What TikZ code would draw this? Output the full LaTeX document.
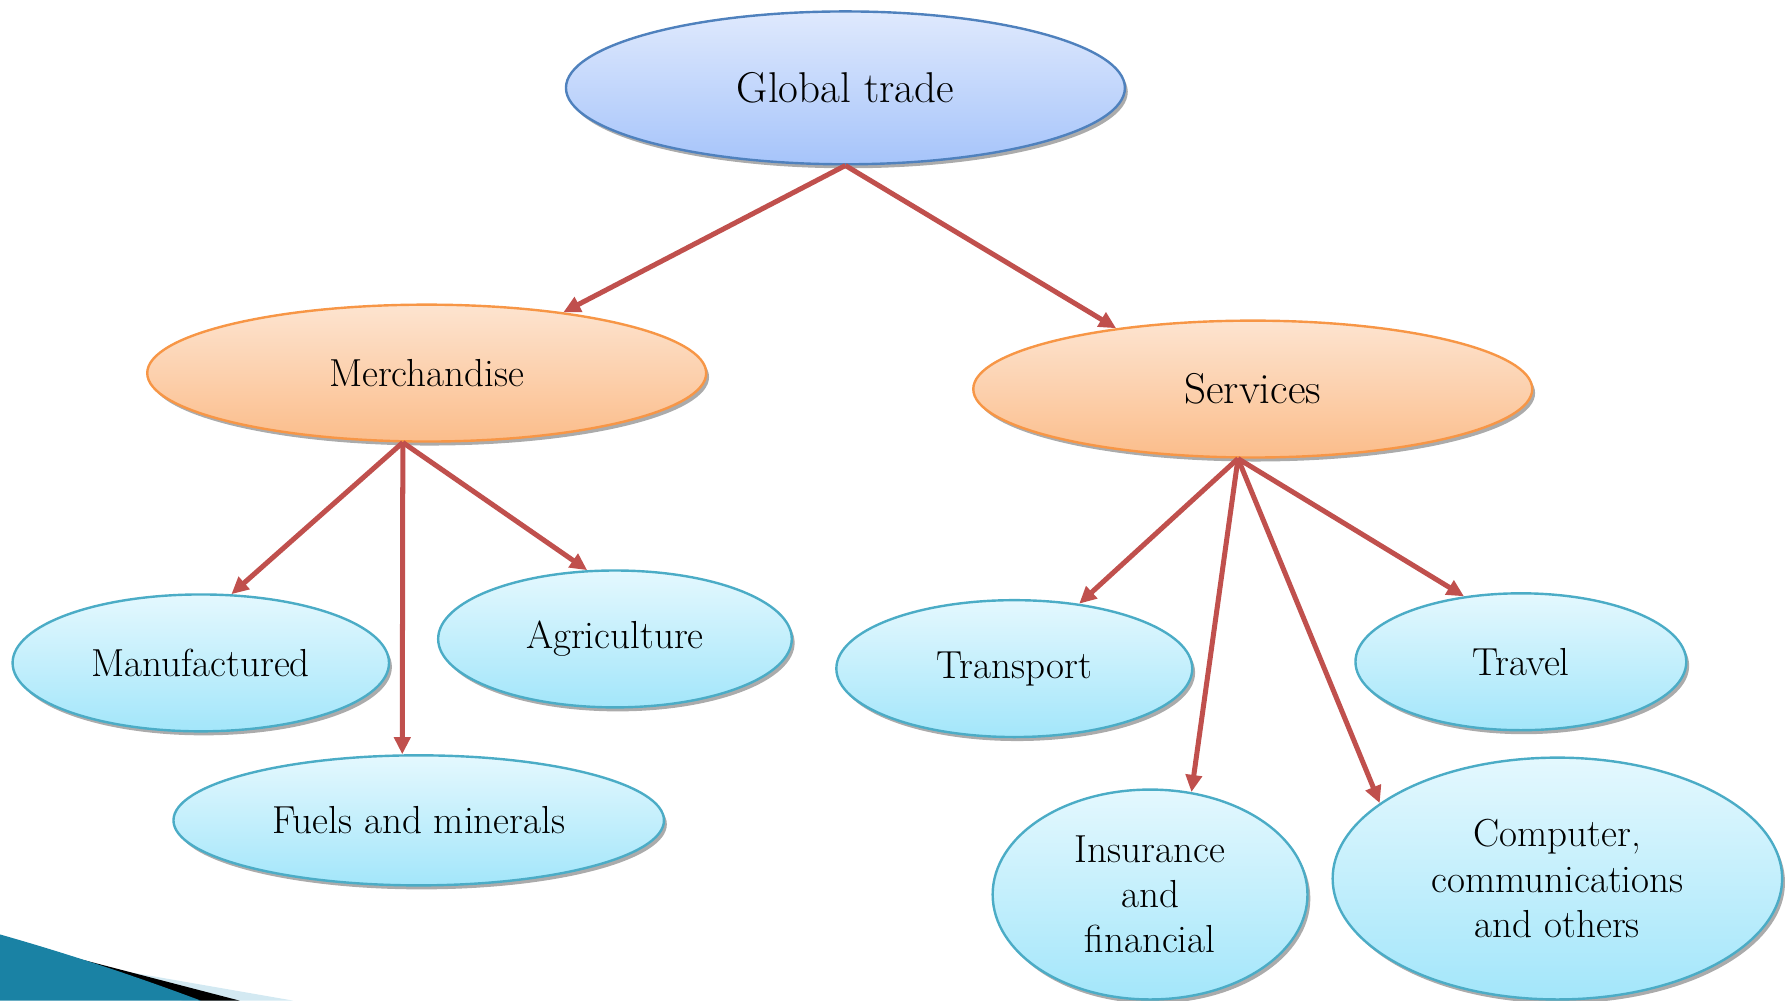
\documentclass[tikz,border=0pt]{standalone}
\usepackage{fontspec}
\usetikzlibrary{shapes.geometric,shadows,arrows.meta}
\definecolor{topline}{HTML}{4F81BD}
\definecolor{toptop}{HTML}{DFE9FD}
\definecolor{topbot}{HTML}{A6C4FA}
\definecolor{midline}{HTML}{F79646}
\definecolor{midtop}{HTML}{FDE4D0}
\definecolor{midbot}{HTML}{FBBD8B}
\definecolor{leafline}{HTML}{4BACC6}
\definecolor{leaftop}{HTML}{E4F8FE}
\definecolor{leafbot}{HTML}{A3E6FA}
\definecolor{arrowred}{HTML}{C0504D}
\definecolor{swteal}{HTML}{1A82A4}
\definecolor{swlight}{HTML}{D3E9F2}

\begin{document}
\begin{tikzpicture}[x=0.02cm,y=-0.02cm,
	oval/.style={ellipse,inner sep=0pt,line width=1.2pt,align=center,
		font=\fontsize{19.5}{22.5}\selectfont,
		drop shadow={shadow xshift=0.05cm,shadow yshift=-0.07cm,fill=black!55,opacity=0.6}},
	root/.style={oval,draw=topline,top color=toptop,bottom color=topbot,font=\fontsize{21.5}{24}\selectfont},
	branch/.style={oval,draw=midline,top color=midtop,bottom color=midbot},
	leaf/.style={oval,draw=leafline,top color=leaftop,bottom color=leafbot},
	arr/.style={draw=arrowred,line width=2.5pt,-{Triangle[length=0.3cm,width=0.28cm]}}]
	\useasboundingbox (0,0) rectangle (1568,877);
	% slide corner
	\fill[swlight] (96,849) -- (257,877) -- (160,877) -- cycle;
	\fill[black] (64,839) -- (210,877) -- (175,877) -- cycle;
	\fill[swteal] (0,819) .. controls (60,836) and (120,856) .. (176,877) -- (0,877) -- cycle;
	% nodes
	\node[root,minimum width=9.8cm,minimum height=2.68cm] (trade) at (741,77) {Global trade};
	\node[branch,minimum width=9.8cm,minimum height=2.4cm] (merch) at (374,327) {Merchandise};
	\node[branch,minimum width=9.8cm,minimum height=2.4cm,font=\fontsize{21.5}{24}\selectfont] (serv) at (1098,341) {Services};
	\node[leaf,minimum width=6.6cm,minimum height=2.4cm] (manuf) at (176,581) {Manufactured};
	\node[leaf,minimum width=6.2cm,minimum height=2.4cm] (agri) at (539,560) {Agriculture};
	\node[leaf,minimum width=8.6cm,minimum height=2.28cm] (fuel) at (367,719) {Fuels and minerals};
	\node[leaf,minimum width=6.24cm,minimum height=2.4cm] (trans) at (889,586) {Transport};
	\node[leaf,minimum width=5.8cm,minimum height=2.4cm] (travel) at (1333,580) {Travel};
	\node[leaf,minimum width=5.52cm,minimum height=3.68cm] (insur) at (1008,784) {Insurance\\and\\financial};
	\node[leaf,minimum width=7.88cm,minimum height=4.24cm] (comp) at (1365,770) {Computer,\\communications\\and others};
	% arrows
	\draw[arr] (trade.south) -- (merch.24);
	\draw[arr] (trade.south) -- (serv.156);
	\draw[arr] (merch.251) -- (manuf.66);
	\draw[arr] (merch.251) -- (fuel.104);
	\draw[arr] (merch.251) -- (agri.112);
	\draw[arr] (serv.258) -- (trans.45);
	\draw[arr] (serv.258) -- (insur.68);
	\draw[arr] (serv.258) -- (comp.157);
	\draw[arr] (serv.258) -- (travel.131);
\end{tikzpicture}
\end{document}
